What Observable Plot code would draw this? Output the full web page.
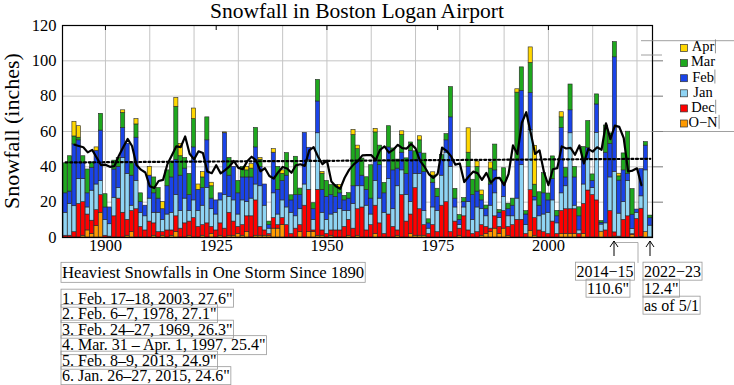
<!DOCTYPE html>
<html><head><meta charset="utf-8">
<script src="https://cdn.jsdelivr.net/npm/d3@7"></script>
<script src="https://cdn.jsdelivr.net/npm/@observablehq/plot@0.6"></script>
<style>
body{margin:0;background:#fff}
svg, svg text{font-family:"Liberation Serif","Times New Roman",serif !important}
</style>
</head><body><div id="chart"></div>
<script>
// Season ending year
const years = [
1891,1892,1893,1894,1895,1896,1897,1898,1899,1900,
1901,1902,1903,1904,1905,1906,1907,1908,1909,1910,
1911,1912,1913,1914,1915,1916,1917,1918,1919,1920,
1921,1922,1923,1924,1925,1926,1927,1928,1929,1930,
1931,1932,1933,1934,1935,1936,1937,1938,1939,1940,
1941,1942,1943,1944,1945,1946,1947,1948,1949,1950,
1951,1952,1953,1954,1955,1956,1957,1958,1959,1960,
1961,1962,1963,1964,1965,1966,1967,1968,1969,1970,
1971,1972,1973,1974,1975,1976,1977,1978,1979,1980,
1981,1982,1983,1984,1985,1986,1987,1988,1989,1990,
1991,1992,1993,1994,1995,1996,1997,1998,1999,2000,
2001,2002,2003,2004,2005,2006,2007,2008,2009,2010,
2011,2012,2013,2014,2015,2016,2017,2018,2019,2020,
2021,2022,2023];
const octNov = [
0,0,0,0,1,4,2,6.5,14,0,
0,0,0,0,1,3,0,0,0,0,
1,0,1,0,1,3,0,0,1,0,
0,1,0,2,0,1,0,1,1,2,
1,3,0,1,1,1,1,5,5,7,
0,0,0,3,0,3,3,1,1,0,
1,0,0,0,1,0,1,0,0,0,
2,0,0,0,0,1,0,0,2,1,
1,1,0,0,0,0,0,0,0,1,
0,0,0,0,1,2,3,5,2,5,
1,0,0,0,0,3.8,1,0,0,0,
0,0,2,2,2,2,0,2,0,0,
0,3.3,0,0,0.5,0,0,0,1.4,0,
0.3,3,0];
const dec = [
1,1,3,19,19,9,7.5,9,10,1,
0.5,12,22,14,9,12,16,6,4,9,
7,3,2,4,3,9,5,8,8,11,
6,6,8,4,4,7,5,13,8,4,
6,9,12,20,5,3,1,6,2,4,
7,2,5,4,18,24,1,26,3,2,
3,4,4,6,9,5,15,17,4,7,
16,8,2,13,6,3,24,9,11,27,
15,6,2,7,3,18,20,3,9,4,
12,4,2,3,6,4,2,7,4,10,
5,7,10,10,2,23,10,4,3,2,
9,2,13,14,14,14,2,17,26.6,24,
21,0,4,15,2.4,0.5,10,12,0.5,10.5,
16,0,0.1];
const jan = [
13,18,14.7,14,13,4,17,14.5,8,9,
7,10.5,6,31,26,3,16,8,8,13,
6,11,7,9,10,12,10,14,6,10,
9,11,20,10,9,13,19,9,12,7,
14,8,10,9,23,14,3,14,6,10,
10,12,7,9,12,17,6,32,10,8,
9,10,12,9,5,14,13,12,14,6,
14,14,12,20,10,25,14,15,7,8,
20,8,3,10,12,17,28,37,8,2,
5,16,8,14,9,6,13,13,5,8,
6,5,12,31,5,34,10,8,10,12,
12,6,10,13,43,2,2,11,18,4,
38.3,4,4,19,34.3,13,10,20,3,3.5,
7,35,6.6];
const feb = [
11,7,35,22,9,8,13,19,28.5,7,
9.5,16,12,17,17,17,24.5,6,6,13,
11,8,6,16,20,20,20,17,9,30,
12,10,27,6,8,4,35,12,19,12,
13,14,12,21,11,12,2,23,14,11,
18,7,12,8,29.2,6.8,6,18,13,13,
11,9,9,6,7,10,14,6,9,9,
12,19,11,18,22,10,10,12,29,8,
12,22,3,14,8,9,7,28,5,3,
3,20,14,9,5,4,12,13,3,8,
4,6,22,42,6,21,2,6,12,7,
12,4,37,5,13,16,8,14,6,4,
16,1,40,19,64.8,18.7,18,4,8,1.8,
15.4,14,4.2];
const mar = [
17,20,4.5,1.5,4,13.5,3,0,9.5,7.5,
0,5,5,8.5,0,7,7.5,5,0,0,
9,6,0,9,9,30,11,6,12,16,
0,6,13,7,0,0,0,10,0,7,
6,4,5,11,4,0,2,0,13,4,
12.8,2.9,21.7,3.7,0,0,3.4,12.2,9.1,9,
5.7,6.8,3,2.6,3.1,29,7,9.7,7.1,18.9,
15.5,11,5.9,12,12.4,5.1,10,8.8,4.8,4.8,
7,10.5,2.3,4,4.6,2.6,3.5,17.1,5.5,2.7,
2.3,8,8.7,14,3,2.1,9,14.6,1.5,8.2,
3.1,4,38,13.3,1.9,17,6.9,7.6,11.4,3.9,
12.9,3.1,6,5.4,14.6,5.9,5.1,7.2,15.3,3.7,
5.7,1,15.4,5.9,8.6,2.4,9.6,23.9,14.5,0,
0,2,1.5];
const apr = [
0,0,8.3,6.5,0,0,0,2,0,0,
0,0,0,1.5,0,0,3,0,0,5,
0,0,4,0,0,5,7,0,0,6,
3,3,0,2,0,0,0.5,0,0,0,
0,2,2.5,0,1,0,0,2,0,2,
0,0,0,0,0,0,0,0,1,0,
0,0,1.8,0,0,2.9,2,0,0,0,
2,0,0,0,0,0,2.1,0,0,0,
2.3,0,0,1.9,0,0,0,0,0,0,
0,13.8,0,3,2.6,0,3.5,0,0,0,
0,0,1.9,0,0,8.8,22,0,0,0,
0,0,2.9,0,0,0,0,0,0,0,
0,0,0,0,0,1.5,0,0,0,0,
0,0,0];
const months = ["O\u2013N","Dec","Jan","Feb","Mar","Apr"];
const monthColors = ["#ff9a00","#ff0000","#8fd4f4","#1a44e8","#1ea81e","#ffd700"];
const legendLabels = ["Apr","Mar","Feb","Jan","Dec","O\u2212N"];
const legendColors = ["#ffd700","#1ea81e","#1a44e8","#8fd4f4","#ff0000","#ff9a00"];
const yTicks = [0,20,40,60,80,100,120];
const xTickLabels = [1900,1925,1950,1975,2000];
const xGrid = [1900,1910,1920,1930,1940,1950,1960,1970,1980,1990,2000,2010,2020];
const storms = [
"Heaviest Snowfalls in One Storm Since 1890",
"1. Feb. 17\u201318, 2003, 27.6\"",
"2. Feb. 6\u20137, 1978, 27.1\"",
"3. Feb. 24\u201327, 1969, 26.3\"",
"4. Mar. 31 \u2013 Apr. 1, 1997, 25.4\"",
"5. Feb. 8\u20139, 2013, 24.9\"",
"6. Jan. 26\u201327, 2015, 24.6\""];
const note1 = ["2014\u221215","110.6\""];
const note2 = ["2022\u221223","12.4\"","as of 5/1"];

const series = [octNov, dec, jan, feb, mar, apr];
const long = [];
years.forEach((yr, i) => {
  series.forEach((s, m) => long.push({year: yr, x1: yr - 0.5, x2: yr + 0.5, month: months[m], value: s[i]}));
});
const totals = years.map((yr, i) => ({year: yr, total: d3.sum(series, s => s[i])}));

const FONT = '"Liberation Serif", "Times New Roman", serif';
const chart = Plot.plot({
  width: 734, height: 385,
  marginLeft: 62, marginRight: 82, marginTop: 25, marginBottom: 148,
  style: {fontFamily: FONT, fontSize: "16px", background: "white", color: "black"},
  x: {domain: [1890.3, 2023.5], label: null},
  y: {domain: [0, 120], label: null},
  color: {domain: months, range: monthColors},
  marks: [
    Plot.gridX(xGrid, {stroke: "#c4c4c4", strokeOpacity: 1, strokeWidth: 1}),
    Plot.gridY(yTicks, {stroke: "#c4c4c4", strokeOpacity: 1, strokeWidth: 1}),
    Plot.rectY(long, {x1: "x1", x2: "x2", y: "value", fill: "month", stroke: "#262626", strokeWidth: 0.6, insetLeft: 0.15, insetRight: 0.15}),
    Plot.linearRegressionY(totals, {x: "year", y: "total", stroke: "black", strokeWidth: 2.2, strokeDasharray: "2,2.6", ci: 0}),
    Plot.lineY(totals, Plot.windowY({k: 5, anchor: "middle", strict: true}, {x: "year", y: "total", stroke: "black", strokeWidth: 2.2})),
    Plot.frame({stroke: "black", strokeWidth: 1.2}),
    Plot.axisY(yTicks, {tickSize: 0, tickPadding: 6, fontSize: 16.5}),
    Plot.axisY([20,40,60,80,100], {anchor: "right", tickSize: 10, tickFormat: () => "", stroke: "#777"}),
    Plot.axisX(xTickLabels, {tickSize: 0, tickPadding: 2, tickFormat: d => String(d), fontSize: 16.5}),
    Plot.axisX(xTickLabels, {anchor: "top", tickSize: -4, tickFormat: () => ""})
  ]
});
chart.setAttribute("font-family", FONT);
document.getElementById("chart").appendChild(chart);

const svg = d3.select(chart);
const g = svg.append("g").attr("font-family", FONT).attr("fill", "black");

function boxed(x, y, text, size, anchor) {
  const t = g.append("text").attr("x", x).attr("y", y).attr("font-size", size)
    .attr("text-anchor", anchor || "start").attr("dominant-baseline", "middle").text(text);
  const b = t.node().getBBox();
  g.insert("rect", "text").attr("x", b.x - 1).attr("y", b.y - 0.5)
    .attr("width", b.width + 2).attr("height", b.height + 1)
    .attr("fill", "none").attr("stroke", "#999").attr("stroke-width", 0.8);
  return b;
}

// title and y label
g.append("text").attr("x", 357).attr("y", 18).attr("text-anchor", "middle")
  .attr("font-size", 21.5).text("Snowfall in Boston Logan Airport");
g.append("text").attr("transform", "translate(14,131) rotate(-90)").attr("text-anchor", "middle")
  .attr("dominant-baseline", "middle").attr("font-size", 22).text("Snowfall (inches)");

// legend
legendLabels.forEach((lab, i) => {
  const cy = 48 + i * 15.1;
  g.append("rect").attr("x", 680.5).attr("y", cy - 3.5).attr("width", 7).attr("height", 7)
    .attr("fill", legendColors[i]).attr("stroke", "#333").attr("stroke-width", 0.7);
  const t = g.append("text").attr("x", 703).attr("y", cy).attr("dominant-baseline", "middle").attr("font-size", 14.5).text(lab);
  if (i === 0 || i === 2 || i === 4 || i === 5) {
    const b = t.node().getBBox();
    g.append("line").attr("x1", b.x + b.width + 1).attr("x2", b.x + b.width + 1).attr("y1", b.y + 1).attr("y2", b.y + b.height - 1)
      .attr("stroke", "#777").attr("stroke-width", 0.8);
  }
});
[[641, 734, 40.7], [641, 662, 55], [652, 734, 131.5]].forEach(([a, b, y]) => {
  g.append("line").attr("x1", a).attr("x2", b).attr("y1", y).attr("y2", y).attr("stroke", "#888").attr("stroke-width", 0.8);
});

// storms list
storms.forEach((s, i) => {
  const cy = i === 0 ? 274 : 300 + (i - 1) * 15.5;
  boxed(62, cy, s, i === 0 ? 16.7 : 16);
});

// annotations
function arrow(x) {
  g.append("line").attr("x1", x).attr("x2", x).attr("y1", 256).attr("y2", 241).attr("stroke", "black").attr("stroke-width", 1);
  g.append("path").attr("d", `M${x - 4},${247} L${x},${241} L${x + 4},${247}`).attr("fill", "none").attr("stroke", "black").attr("stroke-width", 1);
}
arrow(614);
arrow(650);
g.append("path").attr("d", "M616,242.5 L638,242.5 L638,263").attr("fill", "none").attr("stroke", "#999").attr("stroke-width", 0.8);
boxed(605, 273, note1[0], 16, "middle");
boxed(608, 290, note1[1], 16, "middle");
boxed(644, 273, note2[0], 16);
boxed(644, 290, note2[1], 16);
boxed(644, 307, note2[2], 16);
</script>
</body></html>
